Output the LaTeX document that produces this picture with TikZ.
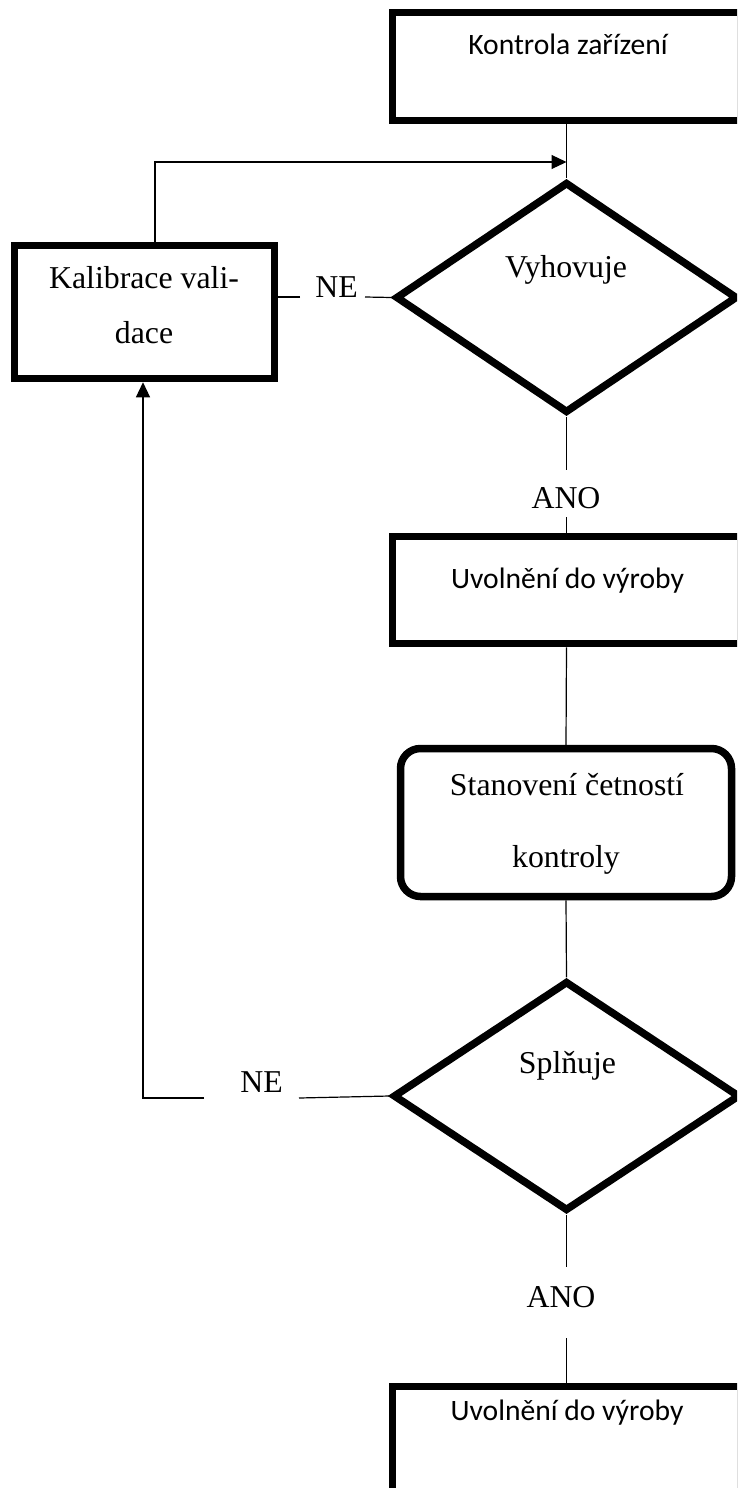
\documentclass[tikz,border=0pt]{standalone}
\usepackage{fontspec}
\setmainfont{Liberation Serif}
\newfontfamily\calib{Carlito}
\usetikzlibrary{shapes.geometric,arrows.meta}
\begin{document}
\begin{tikzpicture}[x=1pt,y=-1pt,
  box/.style={draw,rectangle,line width=7.5pt,inner sep=0pt},
  dia/.style={draw,diamond,line width=7.5pt,inner sep=0pt},
  serif/.style={font=\fontsize{31.8}{37}\selectfont,inner sep=0pt,anchor=base},
  sans/.style={font=\calib\fontsize{29.6}{35}\selectfont,inner sep=0pt,anchor=base},
  conn/.style={line width=1.2pt},
  arr/.style={conn,-{Triangle[length=15pt,width=14pt]}}]
\useasboundingbox (0,0) rectangle (737,1488);
\fill[white] (0,0) rectangle (737,1488);
\clip (0,0) rectangle (737,1488);

% process boxes and decisions
\node[box,minimum width=348pt,minimum height=108pt] (ctrl) at (566.5,66.5) {};
\node[sans] (ctrlT) at (568,55) {Kontrola zařízení};

\node[dia,minimum width=342pt,minimum height=231pt] (vyh) at (566.5,297.5) {};
\node[serif] (vyhT) at (566,277) {Vyhovuje};

\node[box,minimum width=260pt,minimum height=133pt] (kal) at (144.5,312) {};
\node[serif] (kalT1) at (144,288) {Kalibrace vali-};
\node[serif] (kalT2) at (144,343) {dace};

\node[box,minimum width=348pt,minimum height=107pt] (rel1) at (566.5,590) {};
\node[sans] (rel1T) at (567.5,588) {Uvolnění do výroby};

\node[box,rounded corners=20pt,minimum width=331pt,minimum height=148pt] (freq) at (566,822.5) {};
\node[serif] (freqT1) at (567,795) {Stanovení četností};
\node[serif] (freqT2) at (566,867) {kontroly};

\node[dia,minimum width=347pt,minimum height=230pt] (spl) at (566.5,1096) {};
\node[serif] (splT) at (567.5,1073) {Splňuje};

\node[box,minimum width=348pt,minimum height=110pt] (rel2) at (566.5,1441.5) {};
\node[sans] (rel2T) at (567,1420) {Uvolnění do výroby};

% connector end points
\coordinate (loopTop) at (155,162);
\coordinate (loopJoin) at (566.5,162);
\coordinate (ne1r) at (365,297);
\coordinate (ne1l) at (300,297);
\coordinate (ano1t) at (566.5,470);
\coordinate (ano1b) at (566.5,517);
\coordinate (ne2r) at (299,1098);
\coordinate (ne2l) at (204,1098);
\coordinate (ne2c) at (143,1098);
\coordinate (ano2t) at (566.5,1267);
\coordinate (ano2b) at (566.5,1338);

% labels on the branches
\node[serif] (ne1) at (336.5,297) {NE};
\node[serif] (ano1) at (566,508) {ANO};
\node[serif] (ne2) at (261.5,1092) {NE};
\node[serif] (ano2) at (561,1307) {ANO};

% connectors
\draw[conn] (ctrl.south) -- (vyh.north);
\draw[arr] (kal.north -| loopTop) -- (loopTop) -- (loopJoin);
\draw[conn] (vyh.west) -- (ne1r);
\draw[conn] (ne1l) -- (ne1l -| kal.east);
\draw[conn] (vyh.south) -- (ano1t);
\draw[conn] (ano1b) -- (rel1.north);
\draw[conn] (rel1.south) -- (freq.north);
\draw[conn] (freq.south) -- (spl.north);
\draw[conn] (spl.west) -- (ne2r);
\draw[arr] (ne2l) -- (ne2c) -- (ne2c |- kal.south);
\draw[conn] (spl.south) -- (ano2t);
\draw[conn] (ano2b) -- (rel2.north);
\end{tikzpicture}
\end{document}
